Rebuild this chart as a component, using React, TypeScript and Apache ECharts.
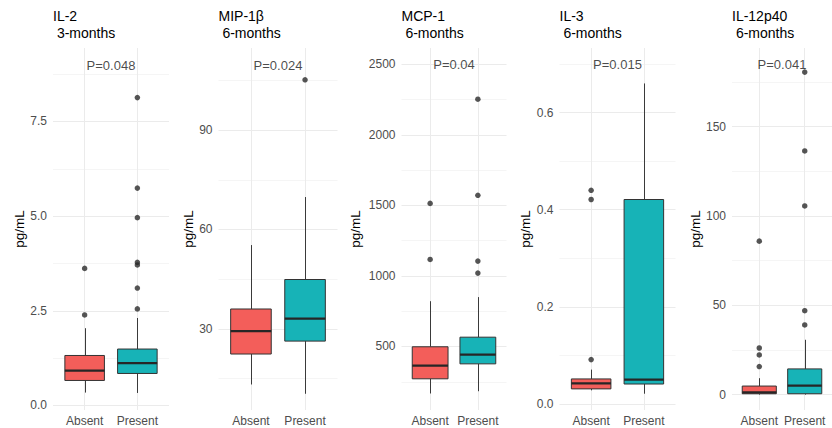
import React, { useEffect, useRef } from 'react';
import * as echarts from 'echarts';

// ---------- data ----------
const groups = ['Absent', 'Present'];
const cytokines = ['IL-2', 'MIP-1β', 'MCP-1', 'IL-3', 'IL-12p40'];
const timepoints = ['3-months', '6-months', '6-months', '6-months', '6-months'];
const pValueLabels = ['P=0.048', 'P=0.024', 'P=0.04', 'P=0.015', 'P=0.041'];
const pValueY = [8.97, 109.6, 2495, 0.698, 184.5];

// five-number summaries: [lower whisker, Q1, median, Q3, upper whisker]
const il2Absent = [0.34, 0.66, 0.92, 1.32, 2.04];
const il2Present = [0.33, 0.845, 1.12, 1.49, 2.31];
const mip1bAbsent = [13.2, 22.4, 29.3, 36.0, 55.3];
const mip1bPresent = [10.4, 26.3, 33.1, 44.9, 69.8];
const mcp1Absent = [167, 271, 365, 498, 821];
const mcp1Present = [183, 377, 443, 566, 850];
const il3Absent = [0.028, 0.031, 0.0425, 0.0515, 0.0707];
const il3Present = [0.021, 0.041, 0.05, 0.421, 0.66];
const il12Absent = [0, 0.5, 1.3, 4.8, 9.2];
const il12Present = [0, 0.5, 5.0, 14.4, 30.7];

// outliers
const il2AbsentOut = [2.39, 3.62];
const il2PresentOut = [2.55, 3.1, 3.71, 3.78, 4.96, 5.74, 8.13];
const mip1bAbsentOut: number[] = [];
const mip1bPresentOut = [105.2];
const mcp1AbsentOut = [1117, 1514];
const mcp1PresentOut = [1020, 1105, 1571, 2252];
const il3AbsentOut = [0.0913, 0.421, 0.44];
const il3PresentOut: number[] = [];
const il12AbsentOut = [15.7, 22.2, 26.1, 85.9];
const il12PresentOut = [39, 47, 105.6, 136.4, 180.5];

const absentStats = [il2Absent, mip1bAbsent, mcp1Absent, il3Absent, il12Absent];
const presentStats = [il2Present, mip1bPresent, mcp1Present, il3Present, il12Present];
const absentOutliers = [il2AbsentOut, mip1bAbsentOut, mcp1AbsentOut, il3AbsentOut, il12AbsentOut];
const presentOutliers = [il2PresentOut, mip1bPresentOut, mcp1PresentOut, il3PresentOut, il12PresentOut];

// axes
const yMin = [-0.12, 5.5, 50, -0.0125, -8.6];
const yMax = [9.44, 114.8, 2615, 0.733, 194];
const yMajorTicks = [
  [0, 2.5, 5, 7.5],
  [30, 60, 90],
  [500, 1000, 1500, 2000, 2500],
  [0, 0.2, 0.4, 0.6],
  [0, 50, 100, 150],
];
const yMinorTicks = [
  [1.25, 3.75, 6.25, 8.75],
  [15, 45, 75, 105],
  [250, 750, 1250, 1750, 2250],
  [0.1, 0.3, 0.5, 0.7],
  [25, 75, 125, 175],
];
const yTickDecimals = [1, 0, 0, 1, 0];
const groupPositions = [1, 2];

// ---------- layout / style ----------
const W = 832;
const H = 428;
const gridLeft = [53, 218.5, 401.5, 559.5, 732];
const gridRightEdge = [169, 337.5, 506.5, 675.5, 844];
const nameGaps = [26, 23, 39, 24, 30];
const gridTop = 48;
const gridBottom = 410;
const groupColors = ['#F35E5A', '#17B3B7'];
const FONT = '"Liberation Sans", Arial, Helvetica, sans-serif';
const BOX_WIDTH = 0.75;

const snap = (v: number) => Math.round(v) + 0.5;

function buildOption() {
  const grid: any[] = [];
  const xAxis: any[] = [];
  const yAxis: any[] = [];
  const series: any[] = [];
  const title: any[] = [];

  for (let i = 0; i < cytokines.length; i++) {
    grid.push({
      left: gridLeft[i],
      width: gridRightEdge[i] - gridLeft[i],
      top: gridTop,
      height: gridBottom - gridTop,
      containLabel: false,
    });
    title.push({
      text: `${cytokines[i]}\n ${timepoints[i]}`,
      left: gridLeft[i],
      top: 7,
      padding: 0,
      textStyle: {
        fontSize: 14,
        fontWeight: 'normal',
        color: '#000',
        lineHeight: 17,
        fontFamily: FONT,
      },
    });
    xAxis.push({
      type: 'value',
      gridIndex: i,
      min: 0.4,
      max: 2.6,
      axisLine: { show: false, onZero: false },
      axisTick: { show: false, customValues: groupPositions },
      axisLabel: {
        customValues: groupPositions,
        formatter: (v: number) => groups[Math.round(v) - 1] ?? '',
        color: '#4D4D4D',
        fontSize: 12,
        margin: 5,
        fontFamily: FONT,
      },
      splitLine: { show: true, lineStyle: { color: '#EBEBEB', width: 1 } },
    });
    yAxis.push({
      type: 'value',
      gridIndex: i,
      min: yMin[i],
      max: yMax[i],
      axisLine: { show: false, onZero: false },
      axisTick: { show: false, customValues: yMajorTicks[i] },
      axisLabel: {
        customValues: yMajorTicks[i],
        formatter: (v: number) => v.toFixed(yTickDecimals[i]),
        color: '#4D4D4D',
        fontSize: 12,
        margin: 6,
        fontFamily: FONT,
      },
      splitLine: { show: true, lineStyle: { color: '#EBEBEB', width: 1 } },
      name: 'pg/mL',
      nameLocation: 'middle',
      nameGap: nameGaps[i],
      nameTextStyle: { fontSize: 13.5, color: '#000', fontFamily: FONT },
    });
    yAxis.push({
      type: 'value',
      gridIndex: i,
      position: 'right',
      min: yMin[i],
      max: yMax[i],
      axisLine: { show: false, onZero: false },
      axisTick: { show: false, customValues: yMinorTicks[i] },
      axisLabel: { show: false },
      splitLine: { show: true, lineStyle: { color: '#F1F1F1', width: 0.7 } },
    });

    const boxData = [
      [groupPositions[0], ...absentStats[i], 0],
      [groupPositions[1], ...presentStats[i], 1],
    ];
    series.push({
      type: 'custom',
      xAxisIndex: i,
      yAxisIndex: 2 * i,
      data: boxData,
      z: 3,
      renderItem: (_params: any, api: any) => {
        const x = api.value(0);
        const lo = api.coord([x, api.value(1)]);
        const q1 = api.coord([x, api.value(2)]);
        const md = api.coord([x, api.value(3)]);
        const q3 = api.coord([x, api.value(4)]);
        const hi = api.coord([x, api.value(5)]);
        const w = api.size([BOX_WIDTH, 0])[0];
        const cx = snap(lo[0]);
        const color = groupColors[api.value(6)];
        const whisker = { stroke: '#3a3a3a', lineWidth: 1 };
        return {
          type: 'group',
          children: [
            { type: 'line', shape: { x1: cx, y1: lo[1], x2: cx, y2: q1[1] }, style: whisker },
            { type: 'line', shape: { x1: cx, y1: q3[1], x2: cx, y2: hi[1] }, style: whisker },
            {
              type: 'rect',
              shape: { x: q3[0] - w / 2, y: q3[1], width: w, height: q1[1] - q3[1] },
              style: { fill: color, stroke: '#333333', lineWidth: 1 },
            },
            {
              type: 'line',
              shape: { x1: md[0] - w / 2, y1: md[1], x2: md[0] + w / 2, y2: md[1] },
              style: { stroke: '#262626', lineWidth: 2.2 },
            },
          ],
        };
      },
    });

    const outData = [
      ...absentOutliers[i].map((v) => [groupPositions[0], v]),
      ...presentOutliers[i].map((v) => [groupPositions[1], v]),
    ];
    series.push({
      type: 'scatter',
      xAxisIndex: i,
      yAxisIndex: 2 * i,
      data: outData,
      symbol: 'circle',
      symbolSize: 5.5,
      itemStyle: { color: '#2b2b2b' },
      z: 4,
    });

    series.push({
      type: 'scatter',
      xAxisIndex: i,
      yAxisIndex: 2 * i,
      data: [[(groupPositions[0] + groupPositions[1]) / 2, pValueY[i]]],
      symbolSize: 0,
      silent: true,
      z: 5,
      label: {
        show: true,
        position: 'inside',
        formatter: pValueLabels[i],
        fontSize: 13,
        color: '#1A1A1A',
        fontFamily: FONT,
      },
    });
  }

  return {
    animation: false,
    backgroundColor: '#FFFFFF',
    textStyle: { fontFamily: FONT },
    title,
    grid,
    xAxis,
    yAxis,
    series,
  };
}

export default function App() {
  const ref = useRef<HTMLDivElement>(null);
  useEffect(() => {
    if (!ref.current) return;
    const chart = echarts.init(ref.current, undefined, { renderer: 'svg' });
    chart.setOption(buildOption() as any);
    return () => chart.dispose();
  }, []);
  return (
    <div
      ref={ref}
      style={{ position: 'absolute', left: 0, top: 0, width: W, height: H, background: '#fff' }}
    />
  );
}
